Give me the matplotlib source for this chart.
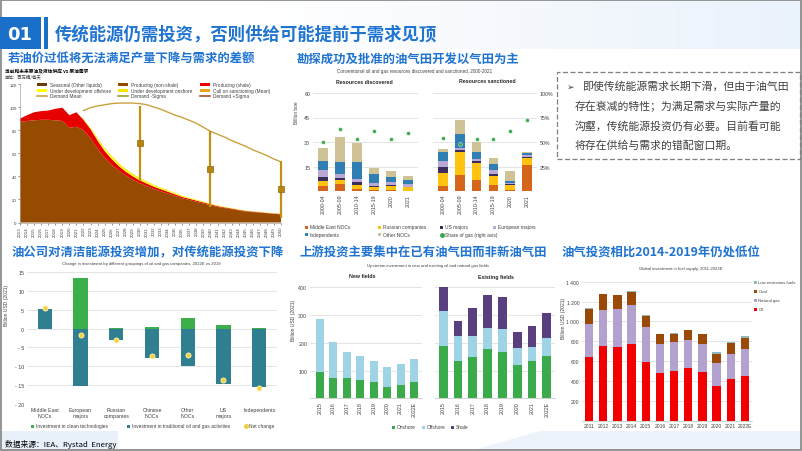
import numpy as np
import matplotlib
matplotlib.use('Agg')
import matplotlib.pyplot as plt
from matplotlib.patches import Rectangle, Polygon
from matplotlib.lines import Line2D

plt.rcParams['font.family'] = ['Liberation Sans', 'Noto Sans CJK SC', 'DejaVu Sans']
CJK = ['Noto Sans CJK SC', 'DejaVu Sans']

# ---- data: panel 1 (supply vs demand, mb/d) ----
years1 = list(range(2013, 2051))
producing_nonshale = [87, 88, 88.5, 89, 89, 88.5, 88, 82, 83, 80, 73, 64, 56, 50, 45, 40.5, 37, 34, 31.5,
                      29, 27, 25, 23, 21, 19.5, 18, 16.5, 15, 13.5, 12.5, 11.5, 10.5, 9.5, 9, 8.5, 8, 7.5, 7]
producing_shale = [3, 5, 7, 7.5, 8, 10, 11.5, 11, 12.5, 9, 8, 7, 6, 5, 4, 3.5, 3, 2.5, 2.2, 2, 1.8,
                   1.6, 1.4, 1.2, 1.1, 1, 0.9, 0.8, 0.7, 0.6, 0.6, 0.5, 0.5, 0.4, 0.4, 0.3, 0.3, 0.3]
dev_offshore = [0, 0, 0, 0, 0, 0, 0, 0, 0, 0.3, 0.8, 1.2, 1.5, 1.6, 1.6, 1.5, 1.4, 1.3, 1.2, 1.1,
                1, 0.9, 0.8, 0.7, 0.6, 0.5, 0.5, 0.4, 0.4, 0.3, 0.3, 0.3, 0.2, 0.2, 0.2, 0.2, 0.2, 0.2]
dev_onshore = [0, 0, 0, 0, 0, 0, 0, 0, 0, 0.2, 0.5, 0.8, 1, 1, 1, 0.9, 0.8, 0.7, 0.6, 0.5,
               0.5, 0.4, 0.4, 0.3, 0.3, 0.3, 0.2, 0.2, 0.2, 0.2, 0.1, 0.1, 0.1, 0.1, 0.1, 0.1, 0.1, 0.1]
demand_years = list(range(2022, 2051))
demand_mean = [97, 99.5, 101, 102, 103, 103.5, 103.5, 103.5, 103, 102, 100, 98, 95.5, 93, 91,
               88.5, 86, 82.5, 79, 76.5, 74, 71, 68.5, 66, 63, 60.5, 58, 55, 52.5]
call_years = [2030, 2040, 2050]
call_mean = [69, 46, 29]
call_low = [36, 13.5, 4]
call_high = [101, 79, 53]

# ---- panel 2 (billion boe) ----
periods = ['2000-04', '2005-09', '2010-14', '2015-19', '2020', '2021']
disc_me = [2.9, 4.3, 1.2, 0.8, 0.6, 0.3]
disc_ru = [3.4, 2.4, 2.5, 1.4, 2.6, 1.9]
disc_us = [2.4, 1.0, 1.6, 1.0, 0.7, 0.4]
disc_eu = [4.3, 2.7, 2.0, 1.5, 1.4, 1.7]
disc_ind = [5.5, 7.5, 10.2, 5.7, 3.4, 2.6]
disc_oth = [8.1, 15.4, 11.8, 3.4, 3.7, 2.1]
disc_gas = [49.5, 63, 53, 61.5, 53.5, 59.5]
sanc_me = [3.2, 9.8, 6.7, 3.7, 0.8, 15.9]
sanc_ru = [7.6, 13.8, 10.2, 5.6, 2.9, 4.6]
sanc_us = [3.6, 1.4, 1.2, 1.1, 0.4, 0.6]
sanc_eu = [3.7, 1.6, 1.4, 2.6, 0.8, 0.7]
sanc_ind = [5.5, 8.6, 4.5, 3.5, 1.4, 1.4]
sanc_oth = [2.4, 8.1, 5.7, 4.0, 6.1, 0.8]
sanc_gas = [54.5, 48, 53, 53.5, 61.5, 72]

# ---- panel 3 (billion USD) ----
groups = ['Middle East\nNOCs', 'European\nmajors', 'Russian\ncompanies', 'Chinese\nNOCs',
          'Other\nNOCs', 'US\nmajors', 'Independents']
clean_inv = [0.1, 13.3, 0.1, 0.3, 2.7, 0.95, 0.1]
traditional_inv = [5.3, -15.2, -3.1, -7.9, -10.0, -14.7, -15.6]
net_change = [5.4, -1.8, -3.1, -7.4, -7.1, -13.6, -15.8]

# ---- panel 4 (billion USD) ----
years4 = ['2015', '2016', '2017', '2018', '2019', '2020', '2021', '2022E']
new_onshore = [96, 72, 72, 67, 58, 41, 49, 58]
new_offshore = [190, 132, 96, 85, 78, 73, 75, 84]
exist_onshore = [190, 134, 150, 176, 166, 121, 135, 152]
exist_offshore = [126, 90, 74, 77, 82, 61, 51, 65]
exist_shale = [84, 56, 101, 119, 116, 56, 74, 91]

# ---- panel 5 (billion USD) ----
years5 = ['2011', '2012', '2013', '2014', '2015', '2016', '2017', '2018', '2019', '2020', '2021', '2022E']
fuel_oil = [643, 748, 744, 771, 593, 479, 496, 527, 492, 352, 419, 449]
fuel_gas = [329, 368, 379, 392, 346, 292, 292, 287, 279, 225, 251, 271]
fuel_coal = [158, 157, 140, 133, 116, 100, 90, 97, 103, 96, 108, 108]
fuel_low = [3, 8, 5, 7, 5, 3, 4, 4, 4, 14, 16, 26]

W, H = 802, 452
fig = plt.figure(figsize=(W / 100, H / 100), dpi=100)
BLUE = '#1F73D1'
TXT = '#404040'


def box(l, t, r, b):
    return fig.add_axes([l / W, 1 - b / H, (r - l) / W, (b - t) / H])


def put(x, y, s, **kw):
    kw.setdefault('va', 'center')
    return fig.text(x / W, 1 - y / H, s, **kw)


def key(x, y, color, label, kind='box', fs=3.6, w=4, h=4, gap=2):
    if kind == 'box':
        fig.add_artist(Rectangle((x / W, 1 - (y + h / 2) / H), w / W, h / H,
                                 transform=fig.transFigure, color=color, lw=0))
    elif kind == 'line':
        fig.add_artist(Line2D([x / W, (x + w) / W], [1 - y / H] * 2,
                              transform=fig.transFigure, color=color, lw=1.2))
    else:
        fig.add_artist(Line2D([(x + w / 2) / W], [1 - y / H], transform=fig.transFigure,
                              marker='o', ms=2.6, color=color, lw=0))
    put(x + w + gap, y, label, fontsize=fs, color=TXT)


def stacked(ax, x, series, colors, width):
    bottom = np.zeros(len(x))
    for vals, c in zip(series, colors):
        ax.bar(x, vals, width, bottom=bottom, color=c, lw=0)
        bottom += np.array(vals)


def tidy(ax, fs=3.6):
    for s in ax.spines.values():
        s.set_visible(False)
    ax.tick_params(labelsize=fs, length=0, pad=2, colors=TXT)
    ax.yaxis.grid(True, color='#D9D9D9', lw=0.5)
    ax.set_axisbelow(True)


# background and frame (soft blue wash on the header's right side)
bg = fig.add_axes([260 / W, 1 - 50 / H, 542 / W, 49 / H], zorder=-10)
bg.imshow(np.linspace(0, 1, 200)[None, :], cmap=matplotlib.colors.LinearSegmentedColormap.from_list(
    'wash', ['#FFFFFF', '#EAF2FB']), aspect='auto', extent=(0, 1, 0, 1))
bg.axis('off')
fig.add_artist(Rectangle((0, 0), 118 / W, 20 / H, transform=fig.transFigure,
                         color='#E8F0FA', lw=0, zorder=-5))
fig.add_artist(Polygon([(470 / W, 0), (540 / W, 20 / H), (1, 20 / H), (1, 0)],
                       transform=fig.transFigure, color='#EDF3FB', lw=0, zorder=-5))
fig.add_artist(Rectangle((1 / W, 1 / H), 800 / W, 450 / H, transform=fig.transFigure,
                         fill=False, ec='#8C8C8C', lw=1.3))

# header
fig.add_artist(Rectangle((0, 1 - 50 / H), 41 / W, 32 / H, transform=fig.transFigure,
                         color='#1A6FC9', lw=0))
fig.add_artist(Rectangle((44 / W, 1 - 50 / H), 4 / W, 32 / H, transform=fig.transFigure,
                         color='#1A6FC9', lw=0))
put(20, 35, '01', fontsize=13, color='white', weight='bold', ha='center', family=['DejaVu Sans'])
put(55, 35, '传统能源仍需投资，否则供给可能提前于需求见顶', fontsize=12.5, color=BLUE,
    weight='bold', family=CJK)

# ---------------- panel 1 ----------------
put(8, 58, '若油价过低将无法满足产量下降与需求的差额', fontsize=8.9, color=BLUE, weight='bold', family=CJK)
put(5, 71, '当前和未来原油及液体供应 vs 原油需求', fontsize=3.4, color='black', weight='bold', family=CJK)
put(5, 77.5, '单位：百万桶/每天', fontsize=3.2, color=TXT, family=CJK)
ax1 = box(20, 85, 281, 223.5)
ax1.stackplot(years1, producing_nonshale, producing_shale, dev_offshore, dev_onshore,
              colors=['#964B00', '#E60000', '#FFFF00', '#F2E600'], lw=0)
ax1.plot(demand_years, demand_mean, color='#C9A23F', lw=1)
ax1.vlines(call_years, call_low, call_high, color='#C09010', lw=1.6, clip_on=False, zorder=4)
ax1.plot(call_years, call_mean, 's', ms=4.5, color='#B8860B', mec='#8B6914', mew=0.5,
         clip_on=False, zorder=5)
ax1.set_xlim(2013, 2050)
ax1.set_ylim(0, 120)
ax1.set_yticks(range(0, 121, 20))
ax1.set_xticks(years1)
ax1.set_xticklabels([str(y) for y in years1], rotation=90)
for s in ('top', 'right'):
    ax1.spines[s].set_visible(False)
for s in ('left', 'bottom'):
    ax1.spines[s].set_color('#A6A6A6')
    ax1.spines[s].set_linewidth(0.5)
ax1.tick_params(labelsize=3.2, length=1.5, width=0.4, pad=1, colors=TXT)
leg1 = [('#6B3A10', 'Seasonal (Other liquids)', 'box'), ('#964B00', 'Producing (non-shale)', 'box'),
        ('#E60000', 'Producing (shale)', 'box'), ('#FFFF00', 'Under development offshore', 'box'),
        ('#F2E600', 'Under development onshore', 'box'), ('#E8A317', 'Call on sanctioning (Mean)', 'box'),
        ('#C9A23F', 'Demand Mean', 'line'), ('#9AA02A', 'Demand -Sigma', 'line'),
        ('#A0522D', 'Demand +Sigma', 'line')]
for i, (c, lab, kind) in enumerate(leg1):
    key([37, 118, 200][i % 3], [85, 91, 97][i // 3], c, lab, kind, fs=3.4, w=10, h=3, gap=3)

# ---------------- panel 2 ----------------
put(297, 59, '勘探成功及批准的油气田开发以气田为主', fontsize=8.9, color=BLUE, weight='bold', family=CJK)
put(415, 72, 'Conventional oil and gas resources discovered and sanctioned, 2000-2021',
    fontsize=3.3, color=TXT, ha='center')
put(364, 83, 'Resources discovered', fontsize=3.8, weight='bold', ha='center', color='#262626')
put(487, 82, 'Resources sanctioned', fontsize=3.8, weight='bold', ha='center', color='#262626')
put(297, 113, 'Billion boe', fontsize=3.4, rotation=90, ha='center', color=TXT)
cols2 = ['#D4651B', '#FFC20E', '#3B2D5E', '#B9A9D4', '#2F7FB5', '#CFC295']
x6 = np.arange(len(periods))
axL = box(313, 94, 418, 192)
axR = box(433, 94, 537, 192)
for ax, series, gas in ((axL, [disc_me, disc_ru, disc_us, disc_eu, disc_ind, disc_oth], disc_gas),
                        (axR, [sanc_me, sanc_ru, sanc_us, sanc_eu, sanc_ind, sanc_oth], sanc_gas)):
    stacked(ax, x6, series, cols2, 0.58)
    ax.set_xlim(-0.6, 5.6)
    ax.set_ylim(0, 60)
    ax.set_yticks([15, 30, 45, 60])
    ax.set_xticks(x6)
    ax.set_xticklabels(periods, rotation=90)
    tidy(ax, 3.8)
    tw = ax.twinx()
    tw.set_ylim(0, 100)
    tw.scatter(x6, gas, s=8, color='#3DAA4E', edgecolor='white', lw=0.3, zorder=5)
    for s in tw.spines.values():
        s.set_visible(False)
    tw.set_yticks([25, 50, 75, 100])
    tw.set_yticklabels(['25%', '50%', '75%', '100%'])
    tw.tick_params(labelsize=3.8, length=0, pad=2, colors=TXT)
    if ax is axL:
        tw.set_yticklabels([])
axR.set_yticklabels([])
leg2 = [('#D4651B', 'Middle East NOCs', 'box'), ('#FFC20E', 'Russian companies', 'box'),
        ('#3B2D5E', 'US majors', 'box'), ('#B9A9D4', 'European majors', 'box'),
        ('#2F7FB5', 'Independents', 'box'), ('#CFC295', 'Other NOCs', 'box'),
        ('#3DAA4E', 'Share of gas (right axis)', 'dot')]
for i, (c, lab, kind) in enumerate(leg2):
    key([305, 378, 440, 493][i % 4], [228, 235.5][i // 4], c, lab, kind, fs=3.5, w=3, h=3, gap=2)

# ---------------- text box ----------------
fig.add_artist(Rectangle((557 / W, 1 - 160 / H), 243 / W, 87 / H, transform=fig.transFigure,
                         fill=False, ec='#7F7F7F', lw=0.9, ls=(0, (4, 2))))
put(571, 87, '➢', fontsize=6.5, color=TXT, ha='center', family=['DejaVu Sans'])
put(582, 87, '即使传统能源需求长期下滑，但由于油气田', fontsize=7.8, color=TXT, family=CJK)
put(575, 106.5, '存在衰减的特性；为满足需求与实际产量的', fontsize=7.8, color=TXT, family=CJK)
put(575, 126, '沟壑，传统能源投资仍有必要。目前看可能', fontsize=7.8, color=TXT, family=CJK)
put(575, 145.5, '将存在供给与需求的错配窗口期。', fontsize=7.8, color=TXT, family=CJK)

# ---------------- panel 3 ----------------
put(12, 253, '油公司对清洁能源投资增加，对传统能源投资下降', fontsize=8.9, color=BLUE, weight='bold', family=CJK)
put(141, 264, 'Change in investment by different groupings of oil and gas companies, 2022E vs 2019',
    fontsize=3.1, color=TXT, ha='center')
put(7, 305, 'Billion USD (2021)', fontsize=3.6, rotation=90, ha='center', color=TXT)
ax3 = box(27, 273, 277, 405)
x7 = np.arange(len(groups))
ax3.bar(x7, clean_inv, 0.4, color='#3BAF4A', lw=0)
ax3.bar(x7, traditional_inv, 0.4, color='#2F7F91', lw=0)
ax3.scatter(x7, net_change, s=13, color='#F3D03E', edgecolor='#FBEFA8', lw=0.7, zorder=4)
ax3.set_xlim(-0.5, 6.5)
ax3.set_ylim(-20, 15)
ax3.set_yticks(range(-20, 16, 5))
ax3.set_yticklabels([str(v) if v >= 0 else '- ' + str(-v) for v in range(-20, 16, 5)])
ax3.set_xticks(x7)
ax3.set_xticklabels(groups)
tidy(ax3, 3.8)
key(31, 427, '#3BAF4A', 'Investment in clean technologies', fs=3.5, w=3, h=3)
key(127, 427, '#2F7F91', 'Investment in traditional oil and gas activities', fs=3.5, w=3, h=3)
key(244, 427, '#F3D03E', 'Net change', 'dot', fs=3.5, w=3, h=3)
put(5, 445, '数据来源：IEA、Rystad  Energy', fontsize=5.6, color='black', family=CJK)

# ---------------- panel 4 ----------------
put(300, 253, '上游投资主要集中在已有油气田而非新油气田', fontsize=8.9, color=BLUE, weight='bold', family=CJK)
put(428, 266, 'Upstream investment in new and existing oil and natural gas fields',
    fontsize=3.1, color=TXT, ha='center')
put(362, 277, 'New fields', fontsize=3.8, weight='bold', ha='center', color='#262626')
put(496, 277, 'Existing fields', fontsize=3.8, weight='bold', ha='center', color='#262626')
put(293, 320, 'Billion USD (2021)', fontsize=3.6, rotation=90, ha='center', color=TXT)
cols4 = ['#3BAA4A', '#9FD4E6', '#5A3F7E']
x8 = np.arange(len(years4))
ax4a = box(310, 288.3, 422, 399.3)
ax4b = box(435, 288.3, 555, 399.3)
stacked(ax4a, x8, [new_onshore, new_offshore], cols4, 0.6)
stacked(ax4b, x8, [exist_onshore, exist_offshore, exist_shale], cols4, 0.6)
ax4a.set_xlim(-0.75, 7.6)
ax4b.set_xlim(-0.55, 7.55)
for ax in (ax4a, ax4b):
    ax.set_ylim(0, 400)
    ax.set_yticks([100, 200, 300, 400])
    ax.set_xticks(x8)
    ax.set_xticklabels(years4, rotation=90)
    tidy(ax, 3.8)
    ax.spines['bottom'].set_visible(True)
    ax.spines['bottom'].set_color('#BFBFBF')
    ax.spines['bottom'].set_linewidth(0.5)
ax4b.set_yticklabels([])
key(392, 428, '#3BAA4A', 'Onshore', fs=3.5, w=3, h=3)
key(422, 428, '#9FD4E6', 'Offshore', fs=3.5, w=3, h=3)
key(451, 428, '#5A3F7E', 'Shale', fs=3.5, w=3, h=3)

# ---------------- panel 5 ----------------
put(562, 253, '油气投资相比2014-2019年仍处低位', fontsize=8.9, color=BLUE, weight='bold', family=CJK)
put(681, 269, 'Global investment in fuel supply, 2011-2022E', fontsize=3.1, color=TXT, ha='center')
put(563, 318, 'Billion USD (2021)', fontsize=3.6, rotation=90, ha='center', color=TXT)
ax5 = box(582, 282.7, 752, 421.7)
x12 = np.arange(len(years5))
stacked(ax5, x12, [fuel_oil, fuel_gas, fuel_coal, fuel_low],
        ['#F20000', '#B3A2CF', '#9A4A06', '#8FB9BD'], 0.58)
ax5.set_xlim(-0.5, 11.5)
ax5.set_ylim(0, 1400)
ax5.set_yticks(range(200, 1401, 200))
ax5.set_yticklabels(['200', '400', '600', '800', '1 000', '1 200', '1 400'])
ax5.set_xticks(x12)
ax5.set_xticklabels(years5)
tidy(ax5, 3.6)
ax5.spines['bottom'].set_visible(True)
ax5.spines['bottom'].set_color('#BFBFBF')
ax5.spines['bottom'].set_linewidth(0.5)
leg5 = [('#8FB9BD', 'Low emissions fuels'), ('#9A4A06', 'Coal'),
        ('#B3A2CF', 'Natural gas'), ('#F20000', 'Oil')]
for i, (c, lab) in enumerate(leg5):
    key(754, 283 + i * 9, c, lab, fs=3.1, w=3, h=3, gap=1.5)

fig.savefig('out.png', dpi=100)
